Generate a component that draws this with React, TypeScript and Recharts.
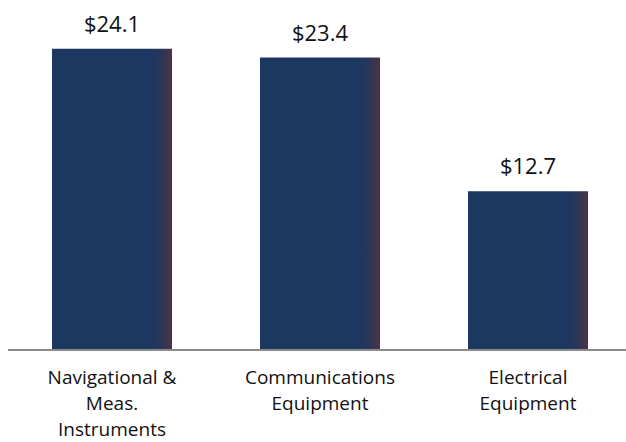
import { BarChart, Bar, XAxis, YAxis, LabelList } from "recharts";

// categories (line breaks as in the original axis labels)
const categories = [
  ["Navigational &", "Meas.", "Instruments"],
  ["Communications", "Equipment"],
  ["Electrical", "Equipment"],
];
const values = [24.1, 23.4, 12.7];

const data = categories.map((lines, i) => ({
  name: lines.join(" "),
  value: values[i],
}));

const FONT = "'Open Sans', sans-serif";

function CategoryTick(props: any) {
  const { x, y, index } = props;
  const lines = categories[index] || [];
  return (
    <text
      x={x}
      y={y}
      textAnchor="middle"
      fill="#111"
      fontSize={19}
      fontFamily={FONT}
    >
      {lines.map((l, i) => (
        <tspan key={i} x={x} dy={i === 0 ? 34 : 26}>
          {l}
        </tspan>
      ))}
    </text>
  );
}

export default function App() {
  return (
    <div
      style={{
        position: "absolute",
        left: 0,
        top: 0,
        width: 626,
        height: 442,
        overflow: "hidden",
        background: "#fff",
      }}
    >
      <BarChart
        width={640}
        height={442}
        data={data}
        margin={{ top: 0, right: 8, bottom: 0, left: 8 }}
      >
        <defs>
          <linearGradient id="barFill" x1="0" y1="0" x2="1" y2="0">
            <stop offset="0" stopColor="#1c3760" />
            <stop offset="0.84" stopColor="#1c3760" />
            <stop offset="0.92" stopColor="#2e3556" />
            <stop offset="1" stopColor="#4d3244" />
          </linearGradient>
        </defs>
        <XAxis
          dataKey="name"
          height={92}
          axisLine={{ stroke: "#8a8a8a", strokeWidth: 2 }}
          tickLine={false}
          tickSize={0}
          tickMargin={0}
          interval={0}
          tick={<CategoryTick />}
        />
        <YAxis hide domain={[0, 28]} />
        <Bar
          dataKey="value"
          barSize={120}
          fill="url(#barFill)"
          isAnimationActive={false}
        >
          <LabelList
            dataKey="value"
            position="top"
            offset={17}
            formatter={(v: any) => `$${Number(v).toFixed(1)}`}
            fill="#111"
            fontSize={22}
            fontFamily={FONT}
          />
        </Bar>
      </BarChart>
    </div>
  );
}
